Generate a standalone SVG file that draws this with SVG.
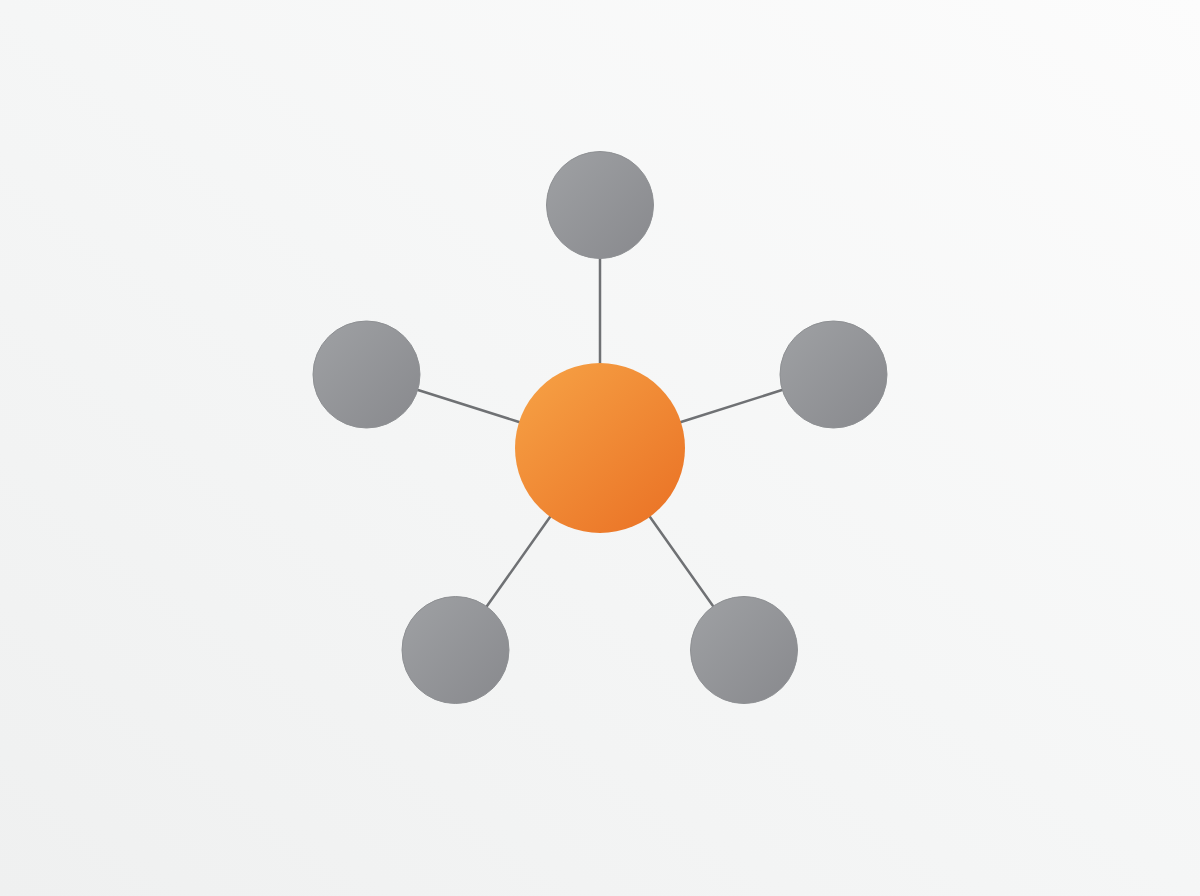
<svg xmlns="http://www.w3.org/2000/svg" width="1200" height="896" viewBox="0 0 1200 896">
  <defs>
    <linearGradient id="bg" x1="0" y1="1" x2="1" y2="0">
      <stop offset="0" stop-color="#eff0f0"/>
      <stop offset="0.5" stop-color="#f5f6f6"/>
      <stop offset="1" stop-color="#fcfcfc"/>
    </linearGradient>
    <linearGradient id="gray" x1="0" y1="0" x2="1" y2="1">
      <stop offset="0" stop-color="#9fa1a4"/>
      <stop offset="1" stop-color="#88898d"/>
    </linearGradient>
    <linearGradient id="orange" x1="0.15" y1="0.1" x2="0.85" y2="0.9">
      <stop offset="0" stop-color="#f59d42"/>
      <stop offset="1" stop-color="#eb7628"/>
    </linearGradient>
  </defs>
  <style>
    .edge { stroke: #6f7174; stroke-width: 2.5; fill: none; stroke-linecap: round; }
    .leaf { fill: url(#gray); stroke: #8e9093; stroke-width: 1; }
    .hub { fill: url(#orange); }
  </style>
  <rect x="0" y="0" width="1200" height="896" fill="url(#bg)"/>
  <g id="connectors">
    <line class="edge" x1="600" y1="258" x2="600" y2="364"/>
    <line class="edge" x1="418" y1="390" x2="519" y2="422"/>
    <line class="edge" x1="782" y1="390" x2="681" y2="422"/>
    <line class="edge" x1="487" y1="606" x2="550" y2="517"/>
    <line class="edge" x1="713" y1="606" x2="650" y2="517"/>
  </g>
  <g id="node-top"><circle class="leaf" cx="600" cy="205" r="53.5"/></g>
  <g id="node-left"><circle class="leaf" cx="366.5" cy="374.5" r="53.5"/></g>
  <g id="node-right"><circle class="leaf" cx="833.5" cy="374.5" r="53.5"/></g>
  <g id="node-bottom-left"><circle class="leaf" cx="455.5" cy="650" r="53.5"/></g>
  <g id="node-bottom-right"><circle class="leaf" cx="744" cy="650" r="53.5"/></g>
  <g id="node-center"><circle class="hub" cx="600" cy="448" r="85"/></g>
</svg>
